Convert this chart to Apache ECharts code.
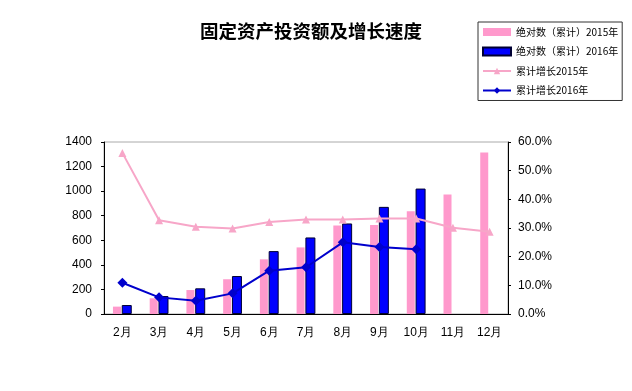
<!DOCTYPE html>
<html><head><meta charset="utf-8">
<script src="https://cdn.jsdelivr.net/npm/echarts@6/dist/echarts.min.js"></script>
<style>html,body{margin:0;padding:0;background:#fff}#c{width:632px;height:391px}</style>
</head><body><div id="c"></div>
<script>
var months = ['2月','3月','4月','5月','6月','7月','8月','9月','10月','11月','12月'];
var abs2015 = [60, 128, 195, 283, 445, 542, 720, 725, 837, 972, 1314];
var abs2016 = [73, 146, 209, 309, 512, 623, 737, 872, 1021, null, null];
var growth2015 = [56.2, 32.7, 30.4, 29.8, 32.1, 33.0, 33.0, 33.3, 33.3, 30.1, 28.7];
var growth2016 = [10.9, 5.8, 4.6, 7.2, 15.1, 16.3, 25.0, 23.4, 22.6, null, null];
var leftTicks = [0, 200, 400, 600, 800, 1000, 1200, 1400];
var rightTicks = [0, 10, 20, 30, 40, 50, 60];

var chart = echarts.init(document.getElementById('c'));
var font = 'Liberation Sans, Arial, sans-serif';
chart.setOption({
  animation: false,
  backgroundColor: '#fff',
  title: {
    text: '固定资产投资额及增长速度',
    left: 195, top: 17,
    textStyle: {fontSize: 18.5, fontWeight: 'bold', color: '#000', fontFamily: 'Noto Sans CJK SC'}
  },
  legend: {
    orient: 'vertical', left: 478, top: 22,
    padding: [5, 4, 5, 4],
    borderColor: '#333', borderWidth: 1,
    itemWidth: 28, itemHeight: 8, itemGap: 9.5,
    textStyle: {fontSize: 10, color: '#000', fontFamily: 'Noto Sans CJK SC'},
    data: [
      {name: '绝对数（累计）2015年', icon: 'rect'},
      {name: '绝对数（累计）2016年', icon: 'rect'},
      {name: '累计增长2015年'},
      {name: '累计增长2016年'}
    ]
  },
  grid: {left: 104, right: 124, top: 142, bottom: 77, show: true, borderColor: '#aaa', borderWidth: 1},
  xAxis: {
    type: 'category', data: months, boundaryGap: true,
    axisLine: {lineStyle: {color: '#000', width: 1}},
    axisTick: {inside: true, length: 3, lineStyle: {color: '#000'}},
    axisLabel: {fontSize: 12, color: '#000', margin: 13, fontFamily: font},
    splitLine: {show: false}
  },
  yAxis: [{
    type: 'value', min: leftTicks[0], max: leftTicks[leftTicks.length - 1], interval: 200,
    axisLine: {show: true, lineStyle: {color: '#000'}},
    axisTick: {show: true, length: 3, lineStyle: {color: '#000'}},
    axisLabel: {fontSize: 12, color: '#000', margin: 12, fontFamily: font,
      formatter: function (v) { return String(v); }},
    splitLine: {show: false}
  }, {
    type: 'value', min: rightTicks[0], max: rightTicks[rightTicks.length - 1], interval: 10,
    axisLine: {show: true, lineStyle: {color: '#000'}},
    axisTick: {show: true, length: 3, lineStyle: {color: '#000'}},
    axisLabel: {fontSize: 12, color: '#000', margin: 10, fontFamily: font,
      formatter: function (v) { return v.toFixed(1) + '%'; }},
    splitLine: {show: false}
  }],
  series: [{
    name: '绝对数（累计）2015年', type: 'bar', data: abs2015,
    barWidth: 8, barGap: '10%',
    itemStyle: {color: '#FF99CC'}
  }, {
    name: '绝对数（累计）2016年', type: 'bar', data: abs2016,
    barWidth: 10,
    itemStyle: {color: '#0000FF', borderColor: '#000033', borderWidth: 1}
  }, {
    name: '累计增长2015年', type: 'line', yAxisIndex: 1, data: growth2015,
    symbol: 'triangle', symbolSize: 8,
    lineStyle: {color: '#F7A6C8', width: 2},
    itemStyle: {color: '#F7A6C8'}
  }, {
    name: '累计增长2016年', type: 'line', yAxisIndex: 1, data: growth2016,
    symbol: 'diamond', symbolSize: 10,
    lineStyle: {color: '#0000CC', width: 2},
    itemStyle: {color: '#0000CC'}
  }]
});
</script></body></html>
